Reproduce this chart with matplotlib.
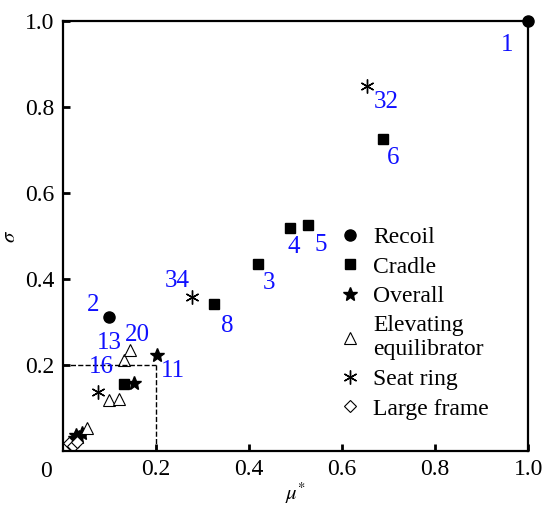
import matplotlib
matplotlib.use('Agg')
import matplotlib.pyplot as plt

plt.rcParams['font.family'] = ['Liberation Serif', 'DejaVu Serif']
plt.rcParams['mathtext.fontset'] = 'stix'

# data
recoil_x = [1.0, 0.099]
recoil_y = [1.0, 0.312]
cradle_x = [0.688, 0.488, 0.527, 0.419, 0.325, 0.131]
cradle_y = [0.726, 0.519, 0.526, 0.435, 0.342, 0.155]
overall_x = [0.202, 0.153, 0.028, 0.034, 0.040, 0.025]
overall_y = [0.223, 0.158, 0.037, 0.033, 0.043, 0.030]
elev_x = [0.132, 0.143, 0.099, 0.120, 0.052]
elev_y = [0.212, 0.235, 0.119, 0.121, 0.053]
seat_x = [0.654, 0.277, 0.075]
seat_y = [0.849, 0.358, 0.137]
frame_x = [0.012, 0.022, 0.030]
frame_y = [0.018, 0.012, 0.022]

# number labels and where they sit
label_text = ['1', '32', '6', '4', '5', '3', '8', '34', '2', '13', '20', '16', '11']
label_x = [0.955, 0.695, 0.710, 0.495, 0.553, 0.443, 0.353, 0.245, 0.065, 0.099, 0.159, 0.082, 0.237]
label_y = [0.944, 0.812, 0.681, 0.474, 0.479, 0.391, 0.291, 0.395, 0.340, 0.251, 0.270, 0.195, 0.186]

fig = plt.figure(figsize=(5.44, 5.08), dpi=100)
ax = fig.add_axes([0.116, 0.112, 0.855, 0.847])

ax.plot(recoil_x, recoil_y, 'o', color='black', ms=8, clip_on=False, label='Recoil')
ax.plot(cradle_x, cradle_y, 's', color='black', ms=7, label='Cradle')
ax.plot(overall_x, overall_y, '*', color='black', ms=10, label='Overall')
ax.plot(elev_x, elev_y, '^', mfc='white', mec='black', mew=0.8, ms=9,
        label='Elevating\nequilibrator')
ax.plot(seat_x, seat_y, marker=(6, 2, 0), ls='none', color='black', mew=1.0, ms=10,
        label='Seat ring')
ax.plot(frame_x, frame_y, 'D', mfc='white', mec='black', mew=0.8, ms=6, label='Large frame')

for t, x, y in zip(label_text, label_x, label_y):
    ax.text(x, y, t, color='#1010ff', fontsize=18, ha='center', va='center')

# dashed box
ax.plot([0, 0.2], [0.2, 0.2], '--', color='black', lw=1)
ax.plot([0.2, 0.2], [0, 0.2], '--', color='black', lw=1)

ax.set_xlim(0, 1)
ax.set_ylim(0, 1)
ax.set_xticks([0.2, 0.4, 0.6, 0.8, 1.0])
ax.set_yticks([0.2, 0.4, 0.6, 0.8, 1.0])
ax.set_xticklabels(['0.2', '0.4', '0.6', '0.8', '1.0'])
ax.set_yticklabels(['0.2', '0.4', '0.6', '0.8', '1.0'])
ax.tick_params(direction='in', length=5, width=2, labelsize=17, pad=6)
ax.text(-0.025, -0.022, '0', transform=ax.transAxes, fontsize=17, ha='right', va='top')
for s in ax.spines.values():
    s.set_linewidth(1.6)

ax.set_xlabel(r'$\mu^{*}$', fontsize=15, labelpad=0)
ax.set_ylabel(r'$\sigma$', fontsize=15, labelpad=4)

ax.legend(loc='lower left', bbox_to_anchor=(0.555, 0.035), frameon=False, fontsize=17,
          handlelength=1.0, handletextpad=0.5, labelspacing=0.34, borderpad=0.2)

fig.savefig('out.png', dpi=100)
